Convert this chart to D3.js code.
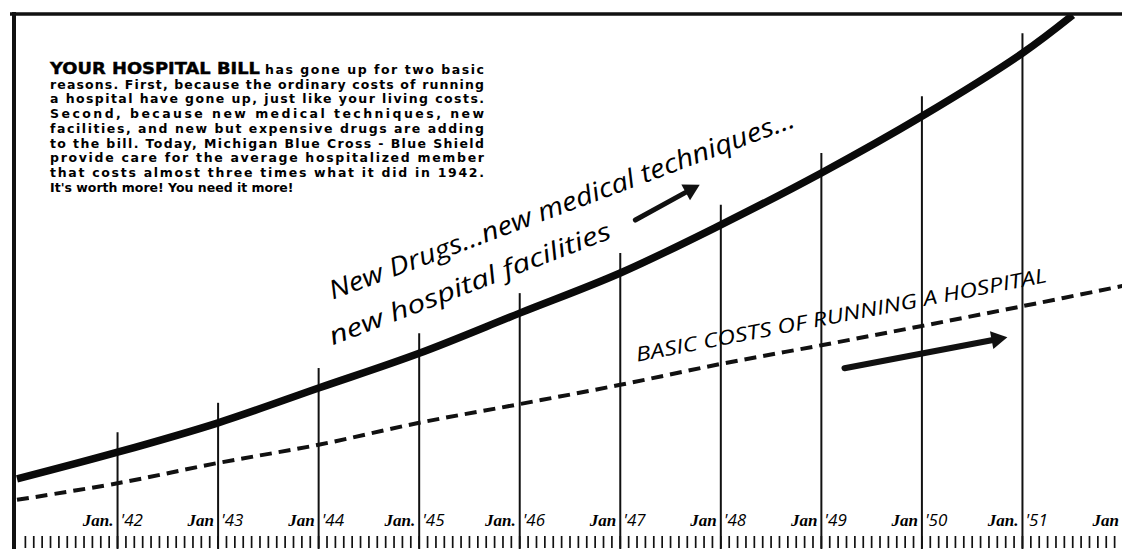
<!DOCTYPE html>
<meta charset="utf-8">
<html>
<head>
    <script src="https://d3js.org/d3.v7.min.js"></script>
    <style>
        body { margin: 0; background: #fff; }
        svg { display: block; }
    </style>
</head>
<body>
<script>
    // values (relative cost index, 0-100 = chart height)
    var years = [1941, 1942, 1943, 1944, 1945, 1946, 1947, 1948, 1949, 1950, 1951, 1951.5];
    var billCost = [12.9, 17.9, 23.4, 29.9, 36.4, 43.9, 51.4, 60.4, 70.1, 80.7, 92.5, 99.6];
    var basicYears = [1941, 1942, 1943, 1944, 1945, 1946, 1947, 1948, 1949, 1950, 1951, 1952];
    var basicCost = [9.0, 12.1, 15.9, 19.3, 23.4, 26.9, 30.5, 34.4, 37.9, 41.5, 45.2, 49.0];

    var gridYears = [1942, 1943, 1944, 1945, 1946, 1947, 1948, 1949, 1950, 1951];
    var janLabels = ["Jan.", "Jan", "Jan", "Jan.", "Jan.", "Jan", "Jan", "Jan", "Jan", "Jan.", "Jan"];
    var yearLabels = ["'42", "'43", "'44", "'45", "'46", "'47", "'48", "'49", "'50", "'51"];

    var paragraph = [
        "reasons. First, because the ordinary costs of running",
        "a hospital have gone up, just like your living costs.",
        "Second, because new medical techniques, new",
        "facilities, and new but expensive drugs are adding",
        "to the bill. Today, Michigan Blue Cross - Blue Shield",
        "provide care for the average hospitalized member",
        "that costs almost three times what it did in 1942.",
        "It's worth more! You need it more!"
    ];

    let width = 1122, height = 550;
    var svg = d3.select("body").append("svg")
        .attr("width", width)
        .attr("height", height);

    var x = d3.scaleLinear().domain([1941, 1952]).range([17, 1123]);
    var y = d3.scaleLinear().domain([0, 100]).range([548, 13]);

    svg.append("clipPath").attr("id", "frame")
        .append("rect").attr("x", 14).attr("y", 14).attr("width", width).attr("height", height);

    // year gridlines, rising to just above the bill curve
    svg.append("g")
        .selectAll("line")
        .data(gridYears)
        .join("line")
            .attr("x1", d => x(d))
            .attr("x2", d => x(d))
            .attr("y1", d => y(billCost[years.indexOf(d)]) - 20)
            .attr("y2", 549)
            .attr("stroke", "#111")
            .attr("stroke-width", 2);

    // monthly ruler at the bottom
    svg.append("g")
        .selectAll("line")
        .data(d3.range(1, 133))
        .join("line")
            .attr("x1", m => x(1941 + m / 12))
            .attr("x2", m => x(1941 + m / 12))
            .attr("y1", 536)
            .attr("y2", 548)
            .attr("stroke", "#111")
            .attr("stroke-width", 1.7);

    // month / year labels
    svg.append("g")
        .selectAll("text")
        .data(janLabels)
        .join("text")
            .attr("x", (d, i) => x(1942 + i) - 4)
            .attr("y", 526)
            .attr("text-anchor", "end")
            .style("font-family", "'Liberation Serif', serif")
            .style("font-style", "italic")
            .style("font-weight", "bold")
            .style("font-size", "17px")
            .text(d => d);

    svg.append("g")
        .selectAll("text")
        .data(yearLabels)
        .join("text")
            .attr("x", (d, i) => x(gridYears[i]) + 3)
            .attr("y", 526)
            .style("font-family", "'Open Sans', sans-serif")
            .style("font-style", "italic")
            .style("font-size", "17px")
            .text(d => d);

    var plot = svg.append("g").attr("clip-path", "url(#frame)");

    var line = d3.line()
        .x((d, i) => x(d[0]))
        .y(d => y(d[1]))
        .curve(d3.curveCatmullRom);

    plot.append("path")
        .datum(basicYears.map((d, i) => [d, basicCost[i]]))
        .attr("fill", "none")
        .attr("stroke", "#111")
        .attr("stroke-width", 4)
        .attr("stroke-dasharray", "12,7")
        .attr("d", line);

    plot.append("path")
        .datum(years.map((d, i) => [d, billCost[i]]))
        .attr("fill", "none")
        .attr("stroke", "#0a0a0a")
        .attr("stroke-width", 7.5)
        .attr("d", line);

    // frame
    svg.append("line")
        .attr("x1", 10).attr("x2", width).attr("y1", 14).attr("y2", 14)
        .attr("stroke", "#111").attr("stroke-width", 3.5);
    svg.append("line")
        .attr("x1", 14).attr("x2", 14).attr("y1", 12).attr("y2", 549)
        .attr("stroke", "#111").attr("stroke-width", 4);

    // explanatory paragraph
    var textLeft = 50, textRight = 484, firstBase = 74, lineGap = 14.7;
    var headW = 210;
    svg.append("text")
        .attr("x", textLeft)
        .attr("y", firstBase)
        .attr("textLength", headW)
        .attr("lengthAdjust", "spacingAndGlyphs")
        .style("font-family", "'DejaVu Sans', sans-serif")
        .style("font-weight", "bold")
        .style("font-size", "15px")
        .style("stroke", "#000")
        .style("stroke-width", 0.4)
        .text("YOUR HOSPITAL BILL");
    svg.append("text")
        .attr("x", textLeft + headW + 5)
        .attr("y", firstBase)
        .attr("textLength", textRight - textLeft - headW - 5)
        .attr("lengthAdjust", "spacing")
        .style("font-family", "'DejaVu Sans', sans-serif")
        .style("font-weight", "bold")
        .style("font-size", "12.5px")
        .text("has gone up for two basic");

    svg.append("g")
        .selectAll("text")
        .data(paragraph)
        .join("text")
            .attr("x", textLeft)
            .attr("y", (d, i) => firstBase + (i + 1) * lineGap)
            .attr("textLength", (d, i) => i < paragraph.length - 1 ? textRight - textLeft : null)
            .attr("lengthAdjust", "spacing")
            .style("font-family", "'DejaVu Sans', sans-serif")
            .style("font-weight", "bold")
            .style("font-size", "12.5px")
            .text(d => d);

    // hand lettered notes
    function note(txt, yr, val, angle, size, len, italic) {
        svg.append("text")
            .attr("transform", `translate(${x(yr)},${y(val)}) rotate(${angle})`)
            .attr("textLength", len)
            .attr("lengthAdjust", "spacingAndGlyphs")
            .style("font-family", "'Open Sans', sans-serif")
            .style("font-style", italic ? "italic" : "normal")
            .style("font-size", size + "px")
            .text(txt);
    }
    note("New Drugs...new medical techniques...", 1944.14, 46.4, -20.5, 26, 495, true);
    note("new hospital facilities", 1944.14, 37.9, -21, 25, 300, true);
    note("BASIC  COSTS  OF  RUNNING  A  HOSPITAL", 1947.17, 34.8, -11, 20, 418, true);

    function arrow(y0, v0, y1, v1, w) {
        var x0 = x(y0), py0 = y(v0), x1 = x(y1), py1 = y(v1);
        var a = Math.atan2(py1 - py0, x1 - x0);
        var hl = 16, hw = 9;
        var bx = x1 - hl * Math.cos(a), by = py1 - hl * Math.sin(a);
        svg.append("line")
            .attr("x1", x0).attr("y1", py0).attr("x2", bx).attr("y2", by)
            .attr("stroke", "#111").attr("stroke-width", w).attr("stroke-linecap", "round");
        svg.append("path")
            .attr("d", d3.line()([
                [x1, py1],
                [bx + hw * Math.sin(a), by - hw * Math.cos(a)],
                [bx - hw * Math.sin(a), by + hw * Math.cos(a)]
            ]) + "Z")
            .attr("fill", "#111");
    }
    arrow(1947.15, 61.3, 1947.79, 67.9, 5);
    arrow(1949.23, 33.6, 1950.85, 39.4, 6);
</script>
</body>
</html>
